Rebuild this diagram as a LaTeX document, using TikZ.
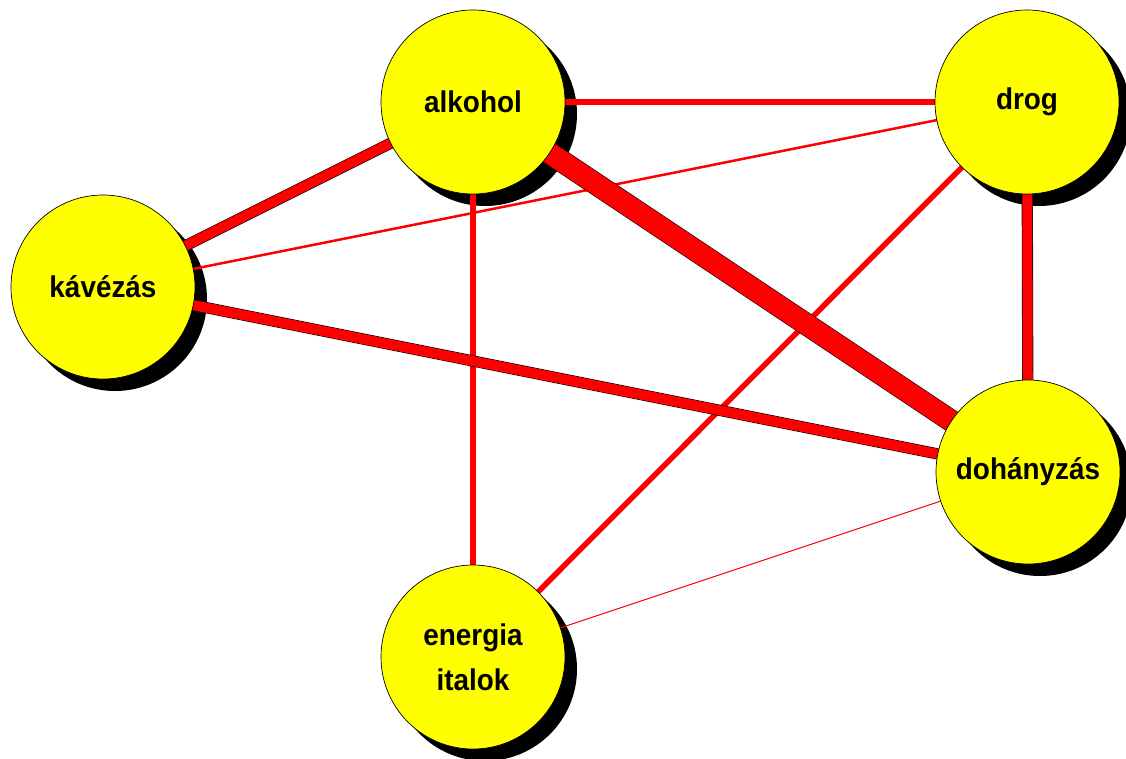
\documentclass[tikz,border=0pt]{standalone}
\usepackage{fontspec}
\setmainfont{Liberation Sans}
\definecolor{ballyellow}{RGB}{255,255,0}
\definecolor{linered}{RGB}{255,0,0}
\pgfdeclarelayer{back}
\pgfdeclarelayer{mid}
\pgfsetlayers{back,mid,main}
\begin{document}
\begin{tikzpicture}[x=1pt,y=-1pt,
  ball/.style={circle,draw=black,line width=0.7pt,fill=ballyellow,minimum size=184pt,inner sep=0pt},
  lbl/.style={font=\fontsize{30}{45}\selectfont\bfseries,align=center,xscale=0.93},
  plain/.style={draw=linered,line width=#1},
  outl/.style={draw=black,line width=0.6pt,double=linered,double distance=#1},
  shadowball/.style={fill=black}]
\useasboundingbox (0,0) rectangle (1126,758);
\node[ball] (alk) at (473,102) {};
\node[ball] (drog) at (1027,102) {};
\node[ball] (kav) at (103,287) {};
\node[ball] (doh) at (1028,472) {};
\node[ball] (ene) at (473,657) {};
\node[lbl] (talk) at (alk.center) {alkohol};
\node[lbl] (tdrog) at (drog.center) {drog};
\node[lbl] (tkav) at (kav.center) {kávézás};
\node[lbl] (tdoh) at (doh.center) {dohányzás};
\node[lbl] (tene) at (ene.center) {energia\\italok};
\begin{pgfonlayer}{back}
\foreach \n in {alk,drog,kav,doh,ene}
  \fill[shadowball] ([shift={(12,12)}]\n.center) circle (92);
\end{pgfonlayer}
\begin{pgfonlayer}{mid}
\draw[plain=6] (alk.center) -- (drog.center);
\draw[plain=6] (alk.center) -- (ene.center);
\draw[plain=2.5] (kav.center) -- (drog.center);
\draw[plain=5.5] (drog.center) -- (ene.center);
\draw[plain=1] (doh.center) -- (ene.center);
\draw[outl=10] (alk.center) -- (kav.center);
\draw[outl=10] (kav.center) -- (doh.center);
\draw[outl=10] (drog.center) -- (doh.center);
\draw[outl=21] (alk.center) -- (doh.center);
\end{pgfonlayer}
\end{tikzpicture}
\end{document}
